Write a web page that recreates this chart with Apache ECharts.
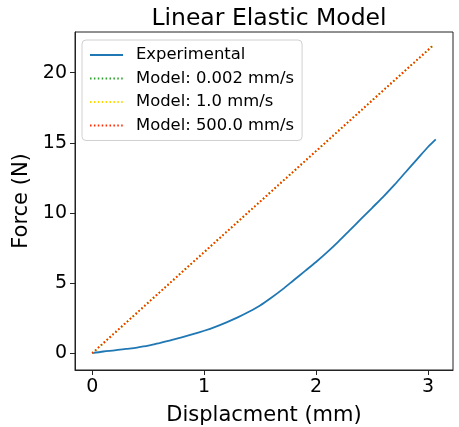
<!DOCTYPE html>
<html>
<head>
<meta charset="utf-8">
<script src="https://cdn.jsdelivr.net/npm/echarts@6/dist/echarts.min.js"></script>
<style>html,body{margin:0;padding:0;background:#fff}#c{width:459px;height:427px}</style>
</head>
<body>
<div id="c"></div>
<script>
const title = 'Linear Elastic Model';
const xLabel = 'Displacment (mm)';
const yLabel = 'Force (N)';
const seriesNames = ['Experimental', 'Model: 0.002 mm/s', 'Model: 1.0 mm/s', 'Model: 500.0 mm/s'];
const xTicks = [0, 1, 2, 3];
const yTicks = [0, 5, 10, 15, 20];

const expDisp  = [0, 0.1, 0.2, 0.3, 0.4, 0.5, 0.6, 0.7, 0.8, 0.9, 1.0, 1.1, 1.2, 1.3, 1.4, 1.5, 1.6, 1.7, 1.8, 1.9, 2.0, 2.1, 2.2, 2.3, 2.4, 2.5, 2.6, 2.7, 2.8, 2.9, 3.0, 3.07];
const expForce = [0.0, 0.12, 0.2, 0.3, 0.4, 0.53, 0.72, 0.92, 1.12, 1.35, 1.6, 1.88, 2.2, 2.55, 2.95, 3.4, 3.95, 4.55, 5.2, 5.85, 6.5, 7.2, 7.95, 8.75, 9.55, 10.35, 11.15, 12.0, 12.9, 13.8, 14.7, 15.25];

const modelDisp = [0, 3.04];
const modelSlow = [0, 21.9];
const modelMid  = [0, 21.9];
const modelFast = [0, 21.9];

const colors = ['#1f77b4', '#2ca02c', '#ffd700', '#ff2a00'];

function pairs(xs, ys) { return xs.map((x, i) => [x, ys[i]]); }

const chart = echarts.init(document.getElementById('c'), null, {renderer: 'canvas'});
const font = 'DejaVu Sans';
const dotted = [1.5, 2.4];

chart.setOption({
  animation: false,
  backgroundColor: '#fff',
  title: {
    text: title, left: 264, top: 2, textAlign: 'center',
    textStyle: {fontFamily: font, fontSize: 23.5, fontWeight: 'normal', color: '#000'}
  },
  grid: {left: 75, right: 6, top: 32, bottom: 57, show: true, borderColor: '#222', borderWidth: 1,
         containLabel: false, outerBoundsMode: 'none'},
  legend: {
    orient: 'vertical', left: 82, top: 40,
    data: seriesNames,
    itemWidth: 33, itemHeight: 14, itemGap: 7.5,
    padding: [7, 8, 7, 7],
    borderColor: '#d0d0d0', borderWidth: 1, borderRadius: 4,
    backgroundColor: 'rgba(255,255,255,0.85)',
    itemStyle: {opacity: 0},
    textStyle: {fontFamily: font, fontSize: 16.4, color: '#000', padding: [0, 0, 0, 8]}
  },
  xAxis: {
    type: 'value', min: -0.154, max: 3.224,
    name: xLabel, nameLocation: 'middle', nameGap: 35,
    nameTextStyle: {fontFamily: font, fontSize: 21, color: '#000'},
    splitLine: {show: false},
    axisLine: {show: true, onZero: false, lineStyle: {color: '#222'}},
    axisTick: {show: true, length: 5, customValues: xTicks, lineStyle: {color: '#222'}},
    axisLabel: {customValues: xTicks, fontFamily: font, fontSize: 19, color: '#000', margin: 8}
  },
  yAxis: {
    type: 'value', min: -1.2, max: 22.9,
    name: yLabel, nameLocation: 'middle', nameGap: 43, nameRotate: 90,
    nameTextStyle: {fontFamily: font, fontSize: 21, color: '#000'},
    splitLine: {show: false},
    axisLine: {show: true, onZero: false, lineStyle: {color: '#222'}},
    axisTick: {show: true, length: 5, customValues: yTicks, lineStyle: {color: '#222'}},
    axisLabel: {customValues: yTicks, fontFamily: font, fontSize: 19, color: '#000', margin: 8}
  },
  series: [
    {name: seriesNames[0], type: 'line', data: pairs(expDisp, expForce), showSymbol: false, symbol: 'none', smooth: 0.3,
     lineStyle: {color: colors[0], width: 1.8}, itemStyle: {color: colors[0]}},
    {name: seriesNames[1], type: 'line', data: pairs(modelDisp, modelSlow), showSymbol: false, symbol: 'none',
     lineStyle: {color: colors[1], width: 1.8, type: dotted}, itemStyle: {color: colors[1]}},
    {name: seriesNames[2], type: 'line', data: pairs(modelDisp, modelMid), showSymbol: false, symbol: 'none',
     lineStyle: {color: colors[2], width: 1.8, type: dotted}, itemStyle: {color: colors[2]}},
    {name: seriesNames[3], type: 'line', data: pairs(modelDisp, modelFast), showSymbol: false, symbol: 'none',
     lineStyle: {color: colors[3], width: 1.8, type: dotted}, itemStyle: {color: colors[3]}}
  ]
});
</script>
</body>
</html>
